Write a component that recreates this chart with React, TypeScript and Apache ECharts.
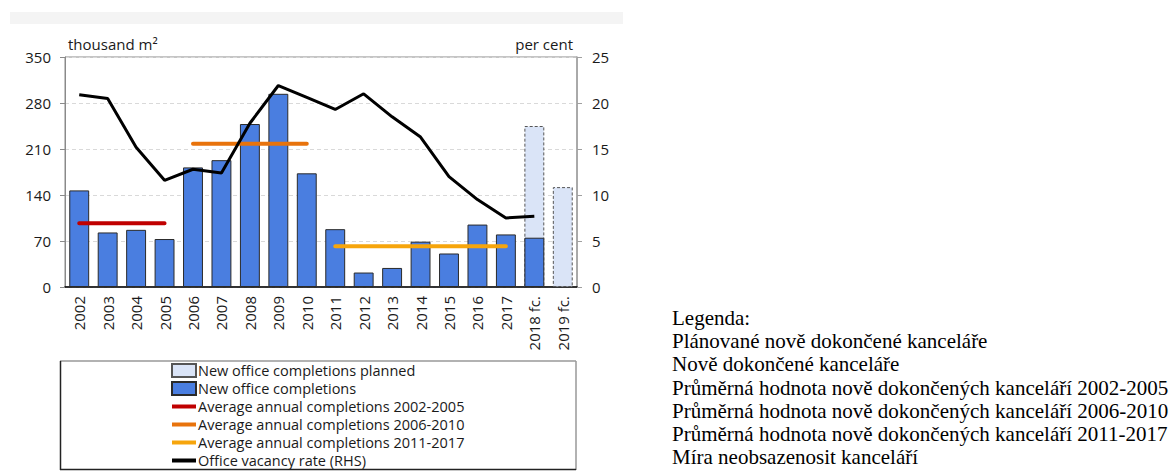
import React, { useEffect, useRef } from "react";
import * as echarts from "echarts";

const categories = [
  "2002", "2003", "2004", "2005", "2006", "2007", "2008", "2009", "2010",
  "2011", "2012", "2013", "2014", "2015", "2016", "2017", "2018 fc.", "2019 fc.",
];
const completions = [147, 83, 87, 73, 182, 193, 248, 294, 173, 88, 22, 29, 69, 51, 95, 80, 75, null];
const planned = [null, null, null, null, null, null, null, null, null, null, null, null, null, null, null, null, 245, 152];
const avg2002_2005 = [97, 97, 97, 97, null, null, null, null, null, null, null, null, null, null, null, null, null, null];
const avg2006_2010 = [null, null, null, null, 218, 218, 218, 218, 218, null, null, null, null, null, null, null, null, null];
const avg2011_2017 = [null, null, null, null, null, null, null, null, null, 62, 62, 62, 62, 62, 62, 62, null, null];
const vacancy = [20.9, 20.5, 15.2, 11.6, 12.8, 12.4, 17.8, 21.9, 20.6, 19.3, 21.0, 18.5, 16.3, 12.0, 9.5, 7.5, 7.7, null];

const leftAxis = { min: 0, max: 350, interval: 70 };
const rightAxis = { min: 0, max: 25, interval: 5 };

const seriesNames = [
  "New office completions planned",
  "New office completions",
  "Average annual completions 2002-2005",
  "Average annual completions 2006-2010",
  "Average annual completions 2011-2017",
  "Office vacancy rate (RHS)",
];
const czechLegend = [
  "Legenda:",
  "Plánované nově dokončené kanceláře",
  "Nově dokončené kanceláře",
  "Průměrná hodnota nově dokončených kanceláří 2002-2005",
  "Průměrná hodnota nově dokončených kanceláří 2006-2010",
  "Průměrná hodnota nově dokončených kanceláří 2011-2017",
  "Míra neobsazenosit kanceláří",
];

const FONT = "'Open Sans'";
const TXT = "#1a1a1a";
const lineIcon = "path://M0,0H24V4H0Z";

export default function App() {
  const ref = useRef<HTMLDivElement>(null);
  useEffect(() => {
    if (!ref.current) return;
    const chart = echarts.init(ref.current, null, { renderer: "svg" });
    const mkAvg = (name: string, data: (number | null)[], color: string) => ({
      name,
      type: "line",
      data,
      color,
      symbol: "none",
      connectNulls: false,
      lineStyle: { color, width: 4, cap: "round" },
      itemStyle: { color },
      z: 4,
    });
    chart.setOption({
      animation: false,
      textStyle: { fontFamily: FONT },
      grid: { left: 65, right: 599, top: 57, bottom: 184, show: true, borderColor: "#8a8a8a", borderWidth: 1 },
      xAxis: {
        type: "category",
        data: categories,
        axisLine: { lineStyle: { color: "#000", width: 1.5 } },
        axisTick: { show: false },
        axisLabel: { rotate: 90, color: TXT, fontSize: 15, fontFamily: FONT, margin: 9 },
      },
      yAxis: [
        {
          type: "value",
          ...leftAxis,
          axisLine: { show: true, lineStyle: { color: "#8a8a8a" } },
          axisTick: { show: true, length: 5, lineStyle: { color: "#8a8a8a" } },
          axisLabel: { color: TXT, fontSize: 15, fontFamily: FONT, margin: 14 },
          splitLine: { show: true, lineStyle: { color: "#d9d9d9", type: [4, 3] } },
        },
        {
          type: "value",
          ...rightAxis,
          position: "right",
          axisLine: { show: true, lineStyle: { color: "#a0a0a0", width: 1.5 } },
          axisTick: { show: true, length: 5, lineStyle: { color: "#a0a0a0" } },
          axisLabel: { color: TXT, fontSize: 15, fontFamily: FONT, margin: 15 },
          splitLine: { show: false },
        },
      ],
      legend: {
        orient: "vertical",
        left: 171,
        top: 363,
        itemWidth: 24,
        itemHeight: 13,
        itemGap: 3,
        padding: 0,
        textStyle: { color: TXT, fontSize: 14.5, fontFamily: FONT, padding: [0, 0, 0, -3], lineHeight: 15 },
        data: [
          { name: seriesNames[0], icon: "rect" },
          { name: seriesNames[1], icon: "rect" },
          { name: seriesNames[2], icon: lineIcon },
          { name: seriesNames[3], icon: lineIcon },
          { name: seriesNames[4], icon: lineIcon },
          { name: seriesNames[5], icon: lineIcon },
        ],
      },
      series: [
        {
          name: seriesNames[0],
          type: "bar",
          data: planned,
          barWidth: "70%",
          barGap: "-100%",
          itemStyle: { color: "#dae4f7", borderColor: "#555", borderWidth: 1, borderType: [3, 2] },
          z: 2,
        },
        {
          name: seriesNames[1],
          type: "bar",
          data: completions,
          barWidth: "70%",
          barGap: "-100%",
          itemStyle: { color: "#4a7ee0", borderColor: "#2a2a2a", borderWidth: 1 },
          z: 3,
        },
        mkAvg(seriesNames[2], avg2002_2005, "#c00000"),
        mkAvg(seriesNames[3], avg2006_2010, "#e8730c"),
        mkAvg(seriesNames[4], avg2011_2017, "#f6a50c"),
        {
          name: seriesNames[5],
          type: "line",
          yAxisIndex: 1,
          data: vacancy,
          color: "#000",
          symbol: "none",
          lineStyle: { color: "#000", width: 3 },
          itemStyle: { color: "#000" },
          z: 5,
        },
      ],
      graphic: [
        { type: "rect", shape: { x: 10, y: 12, width: 613, height: 12 }, style: { fill: "#f4f4f4" }, silent: true },
        {
          type: "text",
          style: { text: "thousand m²", x: 68, y: 44, font: `15px ${FONT}`, fill: TXT, textVerticalAlign: "middle" },
        },
        {
          type: "text",
          style: { text: "per cent", x: 573, y: 44, font: `15px ${FONT}`, fill: TXT, textAlign: "right", textVerticalAlign: "middle" },
        },
        { type: "line", shape: { x1: 60, y1: 361, x2: 576, y2: 361 }, style: { stroke: "#999", lineWidth: 1.5 }, silent: true },
        { type: "line", shape: { x1: 576, y1: 361, x2: 576, y2: 470 }, style: { stroke: "#999", lineWidth: 1.5 }, silent: true },
        { type: "line", shape: { x1: 60.5, y1: 361, x2: 60.5, y2: 470 }, style: { stroke: "#222", lineWidth: 1.5 }, silent: true },
        { type: "line", shape: { x1: 60, y1: 469.5, x2: 576, y2: 469.5 }, style: { stroke: "#222", lineWidth: 1.5 }, silent: true },
        ...czechLegend.map((t, i) => ({
          type: "text",
          style: {
            text: t,
            x: 672,
            y: 318 + i * 23.2,
            font: `21px "Liberation Serif"`,
            fill: "#000",
            textVerticalAlign: "middle",
          },
        })),
      ],
    });
    return () => chart.dispose();
  }, []);
  return (
    <div
      ref={ref}
      style={{ position: "fixed", left: 0, top: 0, width: 1176, height: 471, background: "#fff" }}
    />
  );
}
